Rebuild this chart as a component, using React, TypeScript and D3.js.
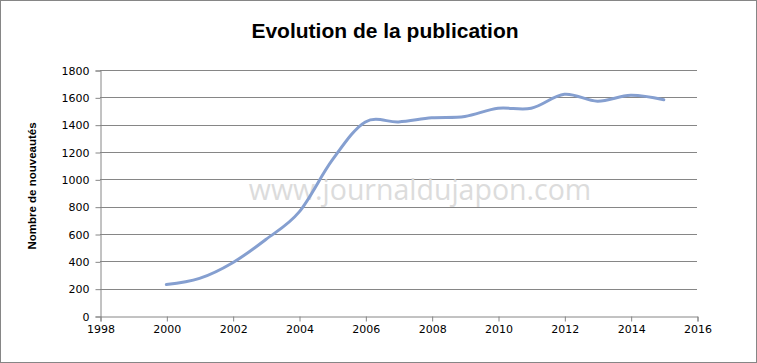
import React, { useRef, useEffect } from 'react'
import * as d3 from 'd3'

const years = [2000, 2001, 2002, 2003, 2004, 2005, 2006, 2007, 2008, 2009, 2010, 2011, 2012, 2013, 2014, 2015]
const nouveautes = [230, 275, 390, 560, 760, 1140, 1420, 1420, 1450, 1460, 1520, 1520, 1622, 1572, 1615, 1582]
const xTicks = [1998, 2000, 2002, 2004, 2006, 2008, 2010, 2012, 2014, 2016]
const yTicks = [0, 200, 400, 600, 800, 1000, 1200, 1400, 1600, 1800]

const title = 'Evolution de la publication'
const yLabel = 'Nombre de nouveautés'
const watermark = 'www.journaldujapon.com'

const App = () => {
    const reg = useRef<SVGSVGElement>(null)
    useEffect(() => {
        const w = 757
        const h = 363
        const svg = d3.select(reg.current)
        svg.selectAll('*').remove()
        svg.attr('width', w).attr('height', h).style('background', 'white')

        // frame
        svg.append('rect')
            .attr('x', 0.5).attr('y', 0.5)
            .attr('width', w - 1).attr('height', h - 1)
            .attr('fill', 'white')
            .attr('stroke', '#868686')

        const left = 100, right = 697, top = 70, bottom = 316

        const xScale = d3.scaleLinear().domain([1998, 2016]).range([left, right])
        const yScale = d3.scaleLinear().domain([0, 1800]).range([bottom, top])

        // grid lines
        svg.append('g')
            .selectAll('line')
            .data(yTicks.filter(d => d > 0))
            .enter().append('line')
            .attr('x1', left)
            .attr('x2', right)
            .attr('y1', d => Math.round(yScale(d)) + 0.5)
            .attr('y2', d => Math.round(yScale(d)) + 0.5)
            .style('stroke', '#868686')

        // watermark
        svg.append('text')
            .attr('x', 420)
            .attr('y', 200)
            .attr('text-anchor', 'middle')
            .style('font-family', '"Open Sans", sans-serif')
            .style('font-size', '28.5px')
            .style('fill', '#dcdcdc')
            .text(watermark)

        // axes
        const xAxis = d3.axisBottom(xScale)
            .tickValues(xTicks)
            .tickFormat(d => String(d))
            .tickSizeOuter(0)
            .tickSize(5)
            .tickPadding(4)
        const yAxis = d3.axisLeft(yScale)
            .tickValues(yTicks)
            .tickFormat(d => String(d))
            .tickSizeOuter(0)
            .tickSize(5)
            .tickPadding(6)

        const gx = svg.append('g')
            .attr('transform', `translate(0.5, ${Math.round(bottom) + 0.5})`)
            .call(xAxis)
        const gy = svg.append('g')
            .attr('transform', `translate(${left + 0.5}, 0.5)`)
            .call(yAxis)
        for (const g of [gx, gy]) {
            g.selectAll('path, line').style('stroke', '#868686')
            g.selectAll('text')
                .style('fill', '#000')
                .style('font-family', '"DejaVu Sans", sans-serif')
                .style('font-size', '11px')
        }

        // line
        const line = d3.line<number>()
            .x((d, i) => xScale(years[i]))
            .y(d => yScale(d))
            .curve(d3.curveCardinal.tension(0))
        svg.append('path')
            .attr('d', line(nouveautes))
            .attr('fill', 'none')
            .attr('stroke', '#859fd0')
            .attr('stroke-width', 3)
            .attr('stroke-linecap', 'round')

        // titles
        svg.append('text')
            .attr('x', 385)
            .attr('y', 38)
            .attr('text-anchor', 'middle')
            .style('font-family', '"Liberation Sans", sans-serif')
            .style('font-weight', 'bold')
            .style('font-size', '21px')
            .style('fill', '#000')
            .text(title)

        svg.append('text')
            .attr('transform', 'translate(36, 186) rotate(-90)')
            .attr('text-anchor', 'middle')
            .style('font-family', '"Liberation Sans", sans-serif')
            .style('font-weight', 'bold')
            .style('font-size', '11.5px')
            .style('fill', '#000')
            .text(yLabel)
    }, [])
    return (
        <div style={{ position: 'absolute', top: 0, left: 0 }}>
            <svg ref={reg}></svg>
        </div>
    )
}

export default App
